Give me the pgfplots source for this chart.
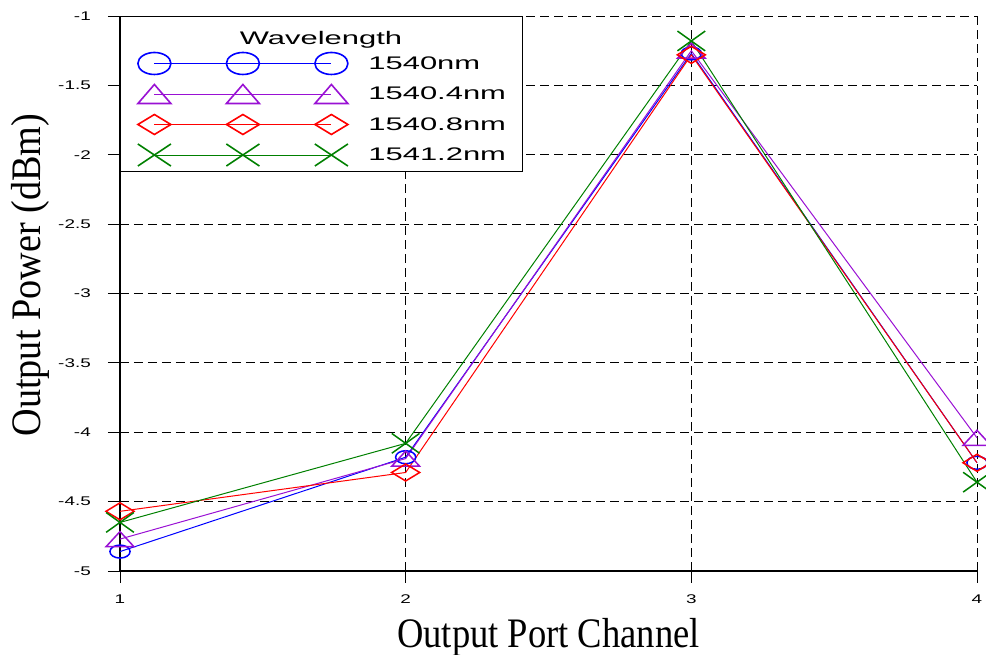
\documentclass[border=0pt]{standalone}
\usepackage{fontspec}
\usepackage{pgfplots}
\pgfplotsset{compat=1.18}

\newfontfamily\tickfont[FakeStretch=1.5]{Liberation Sans}
\newfontfamily\legfont[FakeStretch=1.7]{Liberation Sans}
\newfontfamily\xlabfont[FakeStretch=0.87]{Liberation Serif}
\newfontfamily\ylabfont[FakeStretch=0.91]{Liberation Serif}

\definecolor{wlblue}{RGB}{0,0,255}
\definecolor{wlpurple}{RGB}{153,17,212}
\definecolor{wlred}{RGB}{255,0,0}
\definecolor{wlgreen}{RGB}{0,128,0}

% measured output power per port (dBm)
\pgfplotstableread{
port  p1540  p15404  p15408  p15412
1     -4.86  -4.77   -4.57   -4.65
2     -4.18  -4.19   -4.29   -4.08
3     -1.27  -1.25   -1.28   -1.18
4     -4.22  -4.04   -4.22   -4.36
}\powertable

\pgfplotsset{
  wlimg/.style={legend image code/.code={
    \path[draw=none, fill=none] (-18pt,-15.25pt) rectangle (214pt,15.25pt);
    \draw[##1] plot coordinates {(0pt,0pt) (88.5pt,0pt) (177pt,0pt)};
  }},
  titleimg/.style={legend image code/.code={
    \path[draw=none, fill=none] (-18pt,-9.25pt) rectangle (214pt,21.5pt);
  }},
}

\begin{document}
\begin{tikzpicture}
\begin{axis}[
  scale only axis, width=857pt, height=555pt,
  xmin=1, xmax=4, ymin=-5, ymax=-1,
  axis lines*=left, axis line style={-, black},
  x axis line style={line width=1.2pt},
  y axis line style={line width=2.4pt},
  xtick={1,2,3,4}, xticklabels={1,2,3,4},
  ytick={-5,-4.5,-4,-3.5,-3,-2.5,-2,-1.5,-1},
  yticklabels={-5,-4.5,-4,-3.5,-3,-2.5,-2,-1.5,-1},
  tick align=outside, major tick length=12pt,
  tick style={black, line width=0.8pt},
  ticklabel style={font=\tickfont\fontsize{12.6}{14}\selectfont, inner sep=0pt},
  yticklabel style={anchor=east, xshift=-17pt},
  xticklabel style={anchor=north, yshift=-12pt},
  grid=major,
  grid style={black, line width=0.8pt, dash pattern=on 9pt off 5pt},
  xlabel={Output Port Channel},
  xlabel style={font=\xlabfont\fontsize{42}{44}\selectfont,
    at={(axis description cs:0.5,-0.137)}, anchor=base},
  ylabel={Output Power (dBm)},
  ylabel style={font=\ylabfont\fontsize{42}{44}\selectfont,
    at={(axis description cs:-0.0922,0.533)}, anchor=base},
  clip=false,
  legend cell align=left,
  legend style={at={(0,1)}, anchor=north west, draw=black, line width=0.8pt,
    fill=white, inner xsep=16pt, inner ysep=1pt, row sep=0pt, column sep=0pt,
    font=\legfont\fontsize{18.2}{20}\selectfont, nodes={inner xsep=0pt}},
]
\coordinate (ll) at (rel axis cs:0,0);

\addplot[wlblue, line width=1pt, mark=o, mark size=6.5pt,
  mark options={xscale=1.55, line width=1.5pt, solid}, forget plot]
  table[x=port, y=p1540] {\powertable};
\addplot[wlpurple, line width=1pt, mark=triangle, mark size=10pt,
  mark options={yshift=-2.5pt, xscale=1.6, line width=1.5pt, solid}, forget plot]
  table[x=port, y=p15404] {\powertable};
\addplot[wlred, line width=1pt, mark=diamond, mark size=8.5pt,
  mark options={xscale=2.2, line width=1.5pt, solid}, forget plot]
  table[x=port, y=p15408] {\powertable};
\addplot[wlgreen, line width=1pt, mark=x, mark size=14pt,
  mark options={xscale=1.4, line width=1.5pt, solid}, forget plot]
  table[x=port, y=p15412] {\powertable};

\addlegendimage{titleimg}
\addlegendentry{\makebox[0pt][l]{\hspace*{-129pt}Wavelength}}
\addlegendimage{wlimg, wlblue, line width=0.9pt, mark=o, mark size=11pt,
  mark options={xscale=1.5, line width=1.6pt, solid}}
\addlegendentry{1540nm}
\addlegendimage{wlimg, wlpurple, line width=0.9pt, mark=triangle, mark size=12.7pt,
  mark options={yshift=-3.2pt, xscale=1.5, line width=1.6pt, solid}}
\addlegendentry{1540.4nm}
\addlegendimage{wlimg, wlred, line width=0.9pt, mark=diamond, mark size=10pt,
  mark options={xscale=2.2, line width=1.6pt, solid}}
\addlegendentry{1540.8nm}
\addlegendimage{wlimg, wlgreen, line width=0.9pt, mark=x, mark size=15.6pt,
  mark options={xscale=1.5, line width=1.6pt, solid}}
\addlegendentry{1541.2nm}
\end{axis}
\pgfresetboundingbox
\path ([shift={(-120pt,-84pt)}]ll) rectangle ([shift={(866pt,571pt)}]ll);
\end{tikzpicture}
\end{document}
